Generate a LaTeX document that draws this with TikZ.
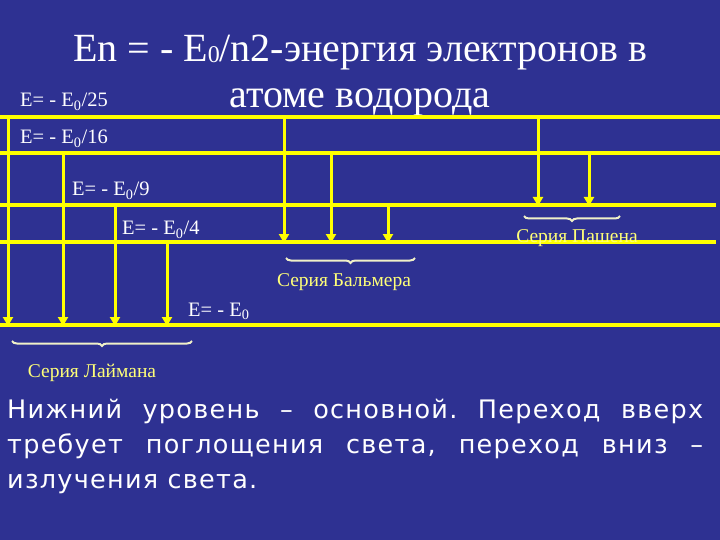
\documentclass[tikz,border=0pt]{standalone}
\usepackage{fontspec}
\setmainfont{Liberation Serif}
\newfontfamily\bodyfont[LetterSpace=5]{DejaVu Sans}
\usetikzlibrary{arrows.meta,decorations.pathreplacing}
\definecolor{bg}{RGB}{46,49,146}
\definecolor{lvl}{RGB}{255,255,0}
\definecolor{ser}{RGB}{255,255,120}
\definecolor{brc}{RGB}{240,240,200}
\tikzset{x=1pt,y=-1pt,
 level/.style={lvl,line width=3.5pt},
 trans/.style={lvl,line width=3pt,-{Triangle[width=10pt,length=9pt]}},
 lab/.style={white,anchor=base west,font=\fontsize{20.5}{22}\selectfont,inner sep=0pt},
 serlab/.style={ser,anchor=base,font=\fontsize{19.5}{21}\selectfont,inner sep=0pt},
 ttl/.style={white,anchor=base,font=\fontsize{40}{44}\selectfont,inner sep=0pt},
 brace/.style={brc,line width=2pt,decorate,decoration={brace,mirror,amplitude=5pt}}}
\begin{document}
\begin{tikzpicture}
\fill[bg] (0,0) rectangle (720,540);
\useasboundingbox (0,0) rectangle (720,540);
\node[ttl] (title1) at (360,62)
 {En = - E\raisebox{-1pt}{\fontsize{24}{24}\selectfont 0}/n2-энергия электронов в};
\node[ttl] (title2) at (360,108) {атоме водорода};
% levels
\coordinate (l5a) at (0,117); \coordinate (l5b) at (720,117);
\coordinate (l4a) at (0,153); \coordinate (l4b) at (720,153);
\coordinate (l3a) at (0,205); \coordinate (l3b) at (716,205);
\coordinate (l2a) at (0,242); \coordinate (l2b) at (716,242);
\coordinate (l1a) at (0,325); \coordinate (l1b) at (720,325);
\foreach \n in {5,4,3,2,1} \draw[level] (l\n a) -- (l\n b);
\node[lab] (e25) at (20,107) {E= - E\textsubscript{0}/25};
\node[lab] (e16) at (20,144) {E= - E\textsubscript{0}/16};
\node[lab] (e9) at (72,196) {E= - E\textsubscript{0}/9};
\node[lab] (e4) at (122,235) {E= - E\textsubscript{0}/4};
\node[lab] (e1) at (188,316) {E= - E\textsubscript{0}};
% transitions
\foreach \x/\a/\b in {8/117/325,63/153/325,115/205/325,167/242/325,
 284/117/242,331/153/242,388/205/242,538/117/205,589/153/205}{
 \coordinate (s) at (\x,\a); \coordinate (t) at (\x,\b+1);
 \draw[trans] (s) -- (t);}
% braces
\coordinate (b1a) at (12,341); \coordinate (b1b) at (192,341);
\coordinate (b2a) at (286,258); \coordinate (b2b) at (415,258);
\coordinate (b3a) at (524,216); \coordinate (b3b) at (620,216);
\draw[brace] (b1a) -- (b1b);
\draw[brace] (b2a) -- (b2b);
\draw[brace] (b3a) -- (b3b);
\node[serlab] (lyman) at (92,377) {Серия Лаймана};
\node[serlab] (balmer) at (344,286) {Серия Бальмера};
\node[serlab] (paschen) at (577,243) {Серия Пашена};
% text
\node[white,anchor=north west,text width=696pt,align=justify,inner sep=0pt,
 font=\bodyfont\fontsize{25.5}{35}\selectfont\frenchspacing] (txt) at (7,399)
 {Нижний уровень – основной. Переход вверх требует поглощения света, переход вниз – излучения света.};
\end{tikzpicture}
\end{document}
